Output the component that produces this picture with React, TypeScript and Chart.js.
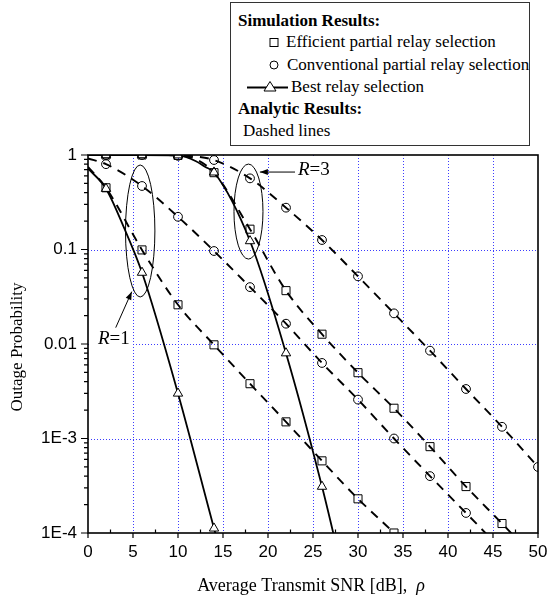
import React, { useEffect, useRef } from "react";
import { Chart, registerables } from "chart.js";
Chart.register(...registerables);

const SERIF = "'Liberation Serif', 'Times New Roman', serif";
const SANS = "'Liberation Sans', Arial, sans-serif";

// axis ticks
const xTickValues = [0, 5, 10, 15, 20, 25, 30, 35, 40, 45, 50];
const yTickValues = [1, 0.1, 0.01, 0.001, 0.0001];
const yTickLabels = ["1", "0.1", "0.01", "1E-3", "1E-4"];

// simulation markers
const effR1X = [2, 6, 10, 14, 18, 22, 26, 30, 34];
const effR1Y = [0.45, 0.099, 0.026, 0.0098, 0.0038, 0.0015, 0.00058, 0.00023, 0.0001];
const convR1X = [2, 6, 10, 14, 18, 22, 26, 30, 34, 38, 42];
const convR1Y = [0.8, 0.47, 0.222, 0.0964, 0.04, 0.0164, 0.0063, 0.00258, 0.001, 0.0004, 0.000163];
const effR3X = [2, 6, 10, 14, 18, 22, 26, 30, 34, 38, 42, 46];
const effR3Y = [1, 1, 0.99, 0.65, 0.164, 0.0367, 0.0127, 0.00497, 0.00209, 0.00082, 0.00031, 0.000126];
const convR3X = [2, 6, 10, 14, 18, 22, 26, 30, 34, 38, 42, 46, 50];
const convR3Y = [1, 1, 0.98, 0.885, 0.566, 0.277, 0.126, 0.052, 0.0211, 0.0085, 0.00334, 0.00133, 0.0005];
const bestR1X = [2, 6, 10, 14];
const bestR1Y = [0.44, 0.057, 0.003, 0.000112];
const bestR3X = [2, 6, 10, 14, 18, 22, 26];
const bestR3Y = [1, 1, 0.995, 0.656, 0.123, 0.008, 0.00031];

// analytic (dashed) curves
const effR1AnaX = [0, 2, 6, 10, 14, 18, 22, 26, 30, 34, 36];
const effR1AnaY = [0.75, 0.45, 0.099, 0.026, 0.0098, 0.0038, 0.0015, 0.00058, 0.00023, 0.0001, 0.000063];
const convR1AnaX = [0, 2, 6, 10, 14, 18, 22, 26, 30, 34, 38, 42, 46];
const convR1AnaY = [0.92, 0.8, 0.47, 0.222, 0.0964, 0.04, 0.0164, 0.0063, 0.00258, 0.001, 0.0004, 0.000163, 0.000066];
const effR3AnaX = [0, 8, 10, 12, 14, 18, 22, 26, 30, 34, 38, 42, 46, 50];
const effR3AnaY = [1, 1, 0.99, 0.9, 0.65, 0.164, 0.0367, 0.0127, 0.00497, 0.00209, 0.00082, 0.00031, 0.000126, 0.00005];
const convR3AnaX = [0, 8, 10, 12, 14, 18, 22, 26, 30, 34, 38, 42, 46, 50];
const convR3AnaY = [1, 1, 0.99, 0.965, 0.885, 0.566, 0.277, 0.126, 0.052, 0.0211, 0.0085, 0.00334, 0.00133, 0.0005];

// best relay selection (solid) curves
const bestR1LineX = [0, 2, 4, 6, 10, 14, 15];
const bestR1LineY = [0.72, 0.44, 0.17, 0.057, 0.003, 0.000112, 0.00005];
const bestR3LineX = [0, 6, 10, 12, 13, 14, 18, 22, 26, 28];
const bestR3LineY = [1, 1, 0.99, 0.86, 0.75, 0.656, 0.123, 0.008, 0.00031, 0.00005];

const pts = (xs: number[], ys: number[]) => xs.map((x, i) => ({ x, y: ys[i] }));

function marker(data: any, style: string, radius: number, fill: string) {
  return {
    data,
    showLine: false,
    pointStyle: style,
    pointRadius: radius,
    pointBorderWidth: 1,
    pointBorderColor: "#000",
    pointBackgroundColor: fill,
    borderColor: "#000",
  };
}
function curve(data: any, dashed: boolean) {
  return {
    data,
    showLine: true,
    borderColor: "#000",
    borderWidth: dashed ? 1.9 : 1.8,
    borderDash: dashed ? [9, 7] : [],
    pointRadius: 0,
    fill: false,
    cubicInterpolationMode: "monotone",
  };
}

function arrow(ctx: CanvasRenderingContext2D, x1: number, y1: number, x2: number, y2: number) {
  ctx.beginPath();
  ctx.moveTo(x1, y1);
  ctx.lineTo(x2, y2);
  ctx.stroke();
  const ang = Math.atan2(y2 - y1, x2 - x1);
  const L = 8, W = 3;
  ctx.beginPath();
  ctx.moveTo(x2, y2);
  ctx.lineTo(x2 - L * Math.cos(ang) + W * Math.sin(ang), y2 - L * Math.sin(ang) - W * Math.cos(ang));
  ctx.lineTo(x2 - L * Math.cos(ang) - W * Math.sin(ang), y2 - L * Math.sin(ang) + W * Math.cos(ang));
  ctx.closePath();
  ctx.fill();
}

const decorPlugin = {
  id: "decor",
  beforeDatasetsDraw(chart: any) {
    const { ctx, chartArea: a, scales } = chart;
    const x = scales.x, y = scales.y;
    ctx.save();
    ctx.strokeStyle = "#3c3cff";
    ctx.lineWidth = 1;
    ctx.setLineDash([1, 2]);
    ctx.beginPath();
    xTickValues.slice(1, -1).forEach((v) => {
      const px = Math.round(x.getPixelForValue(v)) + 0.5;
      ctx.moveTo(px, a.top);
      ctx.lineTo(px, a.bottom);
    });
    yTickValues.slice(1, -1).forEach((v) => {
      const py = Math.round(y.getPixelForValue(v)) + 0.5;
      ctx.moveTo(a.left, py);
      ctx.lineTo(a.right, py);
    });
    ctx.stroke();
    ctx.restore();
  },
  afterDatasetsDraw(chart: any) {
    const { ctx, chartArea: a, scales } = chart;
    const x = scales.x, y = scales.y;
    const X = (v: number) => x.getPixelForValue(v);
    const Y = (v: number) => y.getPixelForValue(v);
    ctx.save();

    // ellipses
    ctx.strokeStyle = "#000";
    ctx.lineWidth = 1;
    ctx.beginPath();
    ctx.ellipse(X(5.8), Y(0.157), 14.7, 66, 0, 0, Math.PI * 2);
    ctx.stroke();
    ctx.beginPath();
    ctx.ellipse(X(17.83), Y(0.252), 14.5, 47.5, 0, 0, Math.PI * 2);
    ctx.stroke();

    // label backgrounds
    ctx.fillStyle = "#fff";
    ctx.fillRect(a.left + 1, Y(0.01) - 18, 42, 20);
    ctx.fillRect(296, a.top + 1, 36, 26);

    // arrows
    ctx.fillStyle = "#000";
    ctx.lineWidth = 1;
    arrow(ctx, X(3.08), Y(0.0149), X(4.86), Y(0.0358));
    arrow(ctx, X(23.0), Y(0.66), X(19.1), Y(0.66));

    // R labels
    const rLabel = (left: number, base: number, num: string) => {
      ctx.textBaseline = "alphabetic";
      ctx.textAlign = "left";
      ctx.font = `italic 19px ${SERIF}`;
      ctx.fillText("R", left, base);
      const w = ctx.measureText("R").width;
      ctx.font = `19px ${SERIF}`;
      ctx.fillText("=" + num, left + w, base);
    };
    rLabel(98, 344, "1");
    rLabel(298, 175, "3");

    // border
    ctx.strokeStyle = "#000";
    ctx.lineWidth = 1.6;
    ctx.setLineDash([]);
    ctx.strokeRect(a.left, a.top, a.right - a.left, a.bottom - a.top);

    // ticks
    ctx.lineWidth = 1.2;
    ctx.beginPath();
    xTickValues.forEach((v, i) => {
      const px = X(v);
      ctx.moveTo(px, a.bottom);
      ctx.lineTo(px, a.bottom + 5);
      if (i < xTickValues.length - 1) {
        const pm = X(v + 2.5);
        ctx.moveTo(pm, a.bottom);
        ctx.lineTo(pm, a.bottom - 3.5);
      }
    });
    yTickValues.forEach((v, i) => {
      const py = Y(v);
      ctx.moveTo(a.left, py);
      ctx.lineTo(a.left - 7, py);
      if (i > 0) {
        for (let k = 2; k <= 9; k++) {
          const pm = Y(v * k);
          ctx.moveTo(a.left, pm);
          ctx.lineTo(a.left - 4, pm);
        }
      }
    });
    ctx.stroke();

    // axis titles
    ctx.fillStyle = "#000";
    ctx.save();
    ctx.translate(18, (a.top + a.bottom) / 2 + 3);
    ctx.rotate(-Math.PI / 2);
    ctx.textAlign = "center";
    ctx.textBaseline = "middle";
    ctx.font = `17px ${SERIF}`;
    ctx.fillText("Outage Probability", 0, 0);
    ctx.restore();

    ctx.textAlign = "left";
    ctx.textBaseline = "alphabetic";
    const t1 = "Average Transmit SNR [dB],  ";
    ctx.font = `18px ${SERIF}`;
    const w1 = ctx.measureText(t1).width;
    ctx.font = `italic 18px ${SERIF}`;
    const w2 = ctx.measureText("ρ").width;
    const sx = 311 - (w1 + w2) / 2;
    ctx.font = `18px ${SERIF}`;
    ctx.fillText(t1, sx, 591);
    ctx.font = `italic 18px ${SERIF}`;
    ctx.fillText("ρ", sx + w1, 591);

    ctx.restore();
  },
};

export default function App() {
  const ref = useRef<HTMLCanvasElement | null>(null);
  useEffect(() => {
    if (!ref.current) return;
    const chart = new Chart(ref.current, {
      type: "line",
      data: {
        datasets: [
          marker(pts(effR1X, effR1Y), "rect", 5.7, "rgba(0,0,0,0)"),
          marker(pts(effR3X, effR3Y), "rect", 5.7, "rgba(0,0,0,0)"),
          marker(pts(convR1X, convR1Y), "circle", 4.4, "rgba(0,0,0,0)"),
          marker(pts(convR3X, convR3Y), "circle", 4.4, "rgba(0,0,0,0)"),
          marker(pts(bestR1X, bestR1Y), "triangle", 5.4, "#fff"),
          marker(pts(bestR3X, bestR3Y), "triangle", 5.4, "#fff"),
          curve(pts(bestR1LineX, bestR1LineY), false),
          curve(pts(bestR3LineX, bestR3LineY), false),
          curve(pts(effR1AnaX, effR1AnaY), true),
          curve(pts(convR1AnaX, convR1AnaY), true),
          curve(pts(effR3AnaX, effR3AnaY), true),
          curve(pts(convR3AnaX, convR3AnaY), true),
        ] as any,
      },
      options: {
        responsive: false,
        animation: false,
        devicePixelRatio: 1,
        layout: { padding: { left: 0, top: 155, right: 20, bottom: 0 } },
        plugins: { legend: { display: false }, tooltip: { enabled: false } },
        scales: {
          x: {
            type: "linear",
            min: 0,
            max: 50,
            afterBuildTicks: (s: any) => {
              s.ticks = xTickValues.map((v) => ({ value: v }));
            },
            afterFit: (s: any) => {
              s.height = 65;
            },
            ticks: {
              font: { family: SANS, size: 17 },
              color: "#000",
              padding: 9,
              maxRotation: 0,
              autoSkip: false,
              callback: (v: any) => String(v),
            },
            grid: { display: false, drawTicks: false },
            border: { display: false },
          },
          y: {
            type: "logarithmic",
            min: 0.0001,
            max: 1,
            afterBuildTicks: (s: any) => {
              s.ticks = yTickValues.map((v) => ({ value: v }));
            },
            afterFit: (s: any) => {
              s.width = 88;
            },
            ticks: {
              font: { family: SANS, size: 17 },
              color: "#000",
              padding: 11,
              autoSkip: false,
              callback: (v: any) => {
                const i = yTickValues.findIndex((t) => Math.abs(t - v) / t < 1e-6);
                return i >= 0 ? yTickLabels[i] : "";
              },
            },
            grid: { display: false, drawTicks: false },
            border: { display: false },
          },
        },
      } as any,
      plugins: [decorPlugin],
    });
    return () => chart.destroy();
  }, []);

  const row = (left: number, top: number, text: string, bold = false) => (
    <div
      style={{
        position: "absolute",
        left,
        top,
        lineHeight: "20px",
        whiteSpace: "nowrap",
        fontWeight: bold ? "bold" : "normal",
      }}
    >
      {text}
    </div>
  );

  return (
    <div style={{ position: "absolute", left: 0, top: 0, width: 558, height: 598, background: "#fff" }}>
      <canvas ref={ref} width={558} height={598} style={{ position: "absolute", left: 0, top: 0 }} />
      <div
        style={{
          position: "absolute",
          left: 230,
          top: 2,
          width: 300,
          height: 144,
          border: "1px solid #333",
          boxSizing: "border-box",
          background: "#fff",
          fontFamily: SERIF,
          fontSize: 17,
          color: "#000",
        }}
      >
        {row(7, 7.8, "Simulation Results:", true)}
        {row(55, 29.3, "Efficient partial relay selection")}
        {row(56, 51.8, "Conventional partial relay selection")}
        {row(60, 73.8, "Best relay selection")}
        {row(7, 96.3, "Analytic Results:", true)}
        {row(12, 118.3, "Dashed lines")}
        <svg width={298} height={142} style={{ position: "absolute", left: 0, top: 0 }}>
          <rect x={39} y={35.5} width={8} height={8} fill="none" stroke="#000" strokeWidth={1} />
          <circle cx={43} cy={62} r={4} fill="none" stroke="#000" strokeWidth={1} />
          <line x1={16} y1={84.5} x2={57} y2={84.5} stroke="#000" strokeWidth={1.8} />
          <polygon points="39,78.5 45,88 33,88" fill="#fff" stroke="#000" strokeWidth={1} />
        </svg>
      </div>
    </div>
  );
}
